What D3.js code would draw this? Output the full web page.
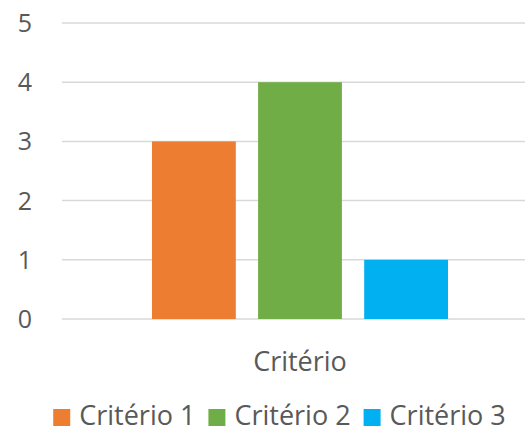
<!DOCTYPE html>
<html>
<head>
<meta charset="utf-8">
<script src="https://cdn.jsdelivr.net/npm/d3@7"></script>
<style>
  body { margin: 0; background: #fff; }
  text { font-family: "Open Sans", sans-serif; fill: #595959; }
</style>
</head>
<body>
<div id="chart"></div>
<script>
var categories = ["Critério"];
var seriesNames = ["Critério 1", "Critério 2", "Critério 3"];
var seriesValues = [3, 4, 1];
var seriesColors = ["#ED7D31", "#70AD47", "#00B0F0"];
var yTicks = [0, 1, 2, 3, 4, 5];

var width = 525, height = 432;
var margin = {top: 23, right: -13, bottom: 113, left: 62};
var innerW = width - margin.left - margin.right,
    innerH = height - margin.top - margin.bottom;

var svg = d3.select("#chart").append("svg")
    .attr("width", width)
    .attr("height", height);

var g = svg.append("g")
    .attr("transform", "translate(" + margin.left + "," + margin.top + ")");

var y = d3.scaleLinear().domain([0, 5]).range([innerH, 0]);

var x0 = d3.scaleBand().domain(categories).range([0, innerW])
    .paddingInner(0).paddingOuter(0.304);

var x1 = d3.scaleBand().domain(seriesNames).range([0, x0.bandwidth()])
    .paddingInner(0.21).paddingOuter(0);

// gridlines
g.selectAll(".grid")
    .data(yTicks)
    .enter().append("line")
    .attr("x1", 0)
    .attr("x2", innerW)
    .attr("y1", function(d) { return y(d); })
    .attr("y2", function(d) { return y(d); })
    .attr("stroke", "#D9D9D9")
    .attr("stroke-width", 1.5);

// y tick labels
g.selectAll(".ytick")
    .data(yTicks)
    .enter().append("text")
    .attr("x", -30)
    .attr("y", function(d) { return y(d); })
    .attr("dy", "0.36em")
    .attr("text-anchor", "end")
    .style("font-size", "25px")
    .text(function(d) { return d; });

// bars
var groups = g.selectAll(".cat")
    .data(categories)
    .enter().append("g")
    .attr("transform", function(d) { return "translate(" + x0(d) + ",0)"; });

groups.selectAll("rect")
    .data(seriesNames.map(function(s, i) { return {name: s, value: seriesValues[i], color: seriesColors[i]}; }))
    .enter().append("rect")
    .attr("x", function(d) { return x1(d.name); })
    .attr("width", x1.bandwidth())
    .attr("y", function(d) { return y(d.value); })
    .attr("height", function(d) { return y(0) - y(d.value); })
    .attr("fill", function(d) { return d.color; });

// category label
g.selectAll(".xlabel")
    .data(categories)
    .enter().append("text")
    .attr("x", function(d) { return x0(d) + x0.bandwidth() / 2; })
    .attr("y", innerH + 52)
    .attr("text-anchor", "middle")
    .style("font-size", "27px")
    .text(function(d) { return d; });

// legend
var legend = svg.append("g");
var lx = 0;
seriesNames.forEach(function(s, i) {
    var item = legend.append("g").attr("transform", "translate(" + lx + ",0)");
    item.append("rect")
        .attr("x", 0).attr("y", 409)
        .attr("width", 17).attr("height", 17)
        .attr("fill", seriesColors[i]);
    var t = item.append("text")
        .attr("x", 26).attr("y", 425)
        .style("font-size", "27px")
        .text(s);
    lx += 26 + t.node().getComputedTextLength() + 13;
});
var legW = lx - 13;
legend.attr("transform", "translate(" + (279.5 - legW / 2) + ",0)");
</script>
</body>
</html>
